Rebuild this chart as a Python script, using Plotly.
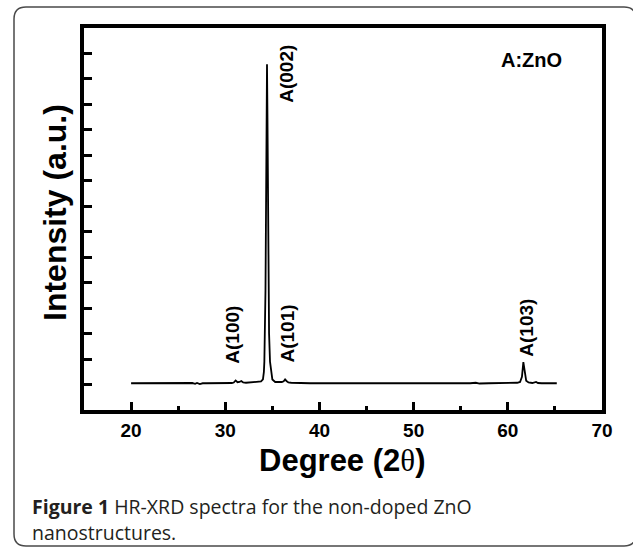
import plotly.graph_objects as go

# XRD scan of non-doped ZnO: 2-theta (deg) and intensity (a.u., one tick = 1 unit)
two_theta = [
    20.0, 21.0, 22.0, 23.0, 24.0, 25.0, 26.0, 26.5, 26.8, 27.0, 27.3, 27.6,
    28.0, 28.5, 29.0, 29.5, 29.8, 30.0, 30.4, 30.7, 30.9, 31.1, 31.3, 31.5,
    31.7, 31.9, 32.2, 32.6, 33.0, 33.4, 33.8, 34.0, 34.1, 34.15, 34.22, 34.27,
    34.33, 34.38, 34.43, 34.48, 34.53, 34.59, 34.65, 34.75, 34.85, 35.0, 35.3,
    35.6, 36.0, 36.2, 36.35, 36.5, 36.7,
    37.0, 37.5, 38.0, 39.0, 40.0, 40.5, 41.0, 42.0, 43.0, 44.0, 45.0, 46.0,
    47.0, 47.5, 48.0, 49.0, 50.0, 51.0, 52.0, 53.0, 54.0, 54.5, 55.0, 56.0,
    56.6, 57.0, 58.0, 59.0, 60.0, 60.5, 61.0, 61.3, 61.5, 61.65, 61.8, 61.95,
    62.2, 62.6, 63.0, 63.2, 63.6, 64.0, 64.5, 65.2,
]
intensity = [
    1.05, 1.05, 1.05, 1.05, 1.05, 1.05, 1.05, 1.06, 1.03, 1.06, 1.02, 1.05,
    1.05, 1.05, 1.05, 1.05, 1.06, 1.05, 1.07, 1.06, 1.08, 1.16, 1.09, 1.10,
    1.14, 1.08, 1.07, 1.08, 1.08, 1.10, 1.12, 1.20, 1.50, 1.90, 3.00, 4.70,
    8.00, 11.50, 13.58, 11.50, 8.00, 4.70, 3.00, 1.90, 1.50, 1.20, 1.10,
    1.09, 1.10, 1.13, 1.20, 1.14, 1.08,
    1.07, 1.06, 1.05, 1.05, 1.05, 1.06, 1.05, 1.05, 1.05, 1.05, 1.04, 1.05,
    1.05, 1.06, 1.05, 1.05, 1.05, 1.05, 1.05, 1.05, 1.06, 1.04, 1.05, 1.05,
    1.07, 1.04, 1.05, 1.06, 1.05, 1.06, 1.07, 1.10, 1.30, 1.88, 1.50, 1.15,
    1.08, 1.06, 1.10, 1.06, 1.05, 1.05, 1.04, 1.05,
]

# Reflection labels (text, x position in deg, y position in a.u.)
peak_labels = ["A(002)", "A(100)", "A(101)", "A(103)"]
peak_label_x = [36.55, 30.75, 36.65, 61.9]
peak_label_y = [13.2, 2.97, 3.0, 3.22]

x_range = [15, 70]
y_range = [0, 15]

W_FIG, H_FIG = 633, 549
L, R, T, B = 84, 602, 28, 410  # plot frame in pixels


def paper_x(px):
    return (px - L) / (R - L)


def paper_y(py):
    return (B - py) / (B - T)


fig = go.Figure()
fig.add_trace(go.Scatter(
    x=two_theta, y=intensity, mode="lines",
    line=dict(color="black", width=1.8), showlegend=False, hoverinfo="skip",
))

axis_font = dict(family="Liberation Sans, Arial", size=19, color="black")

fig.update_xaxes(
    range=x_range, dtick=10, tick0=0,
    showline=True, linecolor="black", linewidth=4, mirror=True,
    ticks="inside", ticklen=8, tickwidth=3, tickcolor="black",
    minor=dict(dtick=5, ticks="inside", ticklen=4, tickwidth=3, tickcolor="black", showgrid=False),
    showgrid=False, zeroline=False,
    tickfont=dict(axis_font, weight="bold"),
)
fig.update_yaxes(
    range=y_range, dtick=1, tick0=0,
    showline=True, linecolor="black", linewidth=4, mirror=True,
    ticks="inside", ticklen=8, tickwidth=3, tickcolor="black",
    showticklabels=False, showgrid=False, zeroline=False,
)

annotations = []
for txt, xv, yv in zip(peak_labels, peak_label_x, peak_label_y):
    annotations.append(dict(
        x=xv, y=yv, xref="x", yref="y", text=txt, showarrow=False, textangle=-90,
        font=dict(family="Liberation Sans, Arial", size=19, color="black", weight="bold"),
        xanchor="center", yanchor="middle",
    ))

annotations += [
    dict(x=paper_x(531), y=paper_y(60), xref="paper", yref="paper", text="A:ZnO",
         xanchor="center", yanchor="middle", showarrow=False,
         font=dict(family="Liberation Sans, Arial", size=20, color="black", weight="bold")),
    dict(x=paper_x(55), y=paper_y(213), xref="paper", yref="paper", text="Intensity (a.u.)",
         xanchor="center", yanchor="middle", showarrow=False, textangle=-90,
         font=dict(family="Liberation Sans, Arial", size=32, color="black", weight="bold")),
    dict(x=paper_x(342), y=paper_y(460), xref="paper", yref="paper",
         text="Degree (2<span style='font-family:Liberation Serif;font-weight:normal'>θ</span>)",
         xanchor="center", yanchor="middle", showarrow=False,
         font=dict(family="Liberation Sans, Arial", size=31, color="black", weight="bold")),
    dict(x=paper_x(30), y=paper_y(507), xref="paper", yref="paper", xanchor="left", yanchor="middle",
         text="<b>Figure 1</b> HR-XRD spectra for the non-doped ZnO",
         showarrow=False, font=dict(family="Open Sans", size=19.5, color="#231f20")),
    dict(x=paper_x(30), y=paper_y(532), xref="paper", yref="paper", xanchor="left", yanchor="middle",
         text="nanostructures.",
         showarrow=False, font=dict(family="Open Sans", size=19.5, color="#231f20")),
]

# Rounded outer frame around figure and caption
bl, bt, br, bb, rad = 14, 7, 636, 546, 12
path = (
    f"M {paper_x(bl)},{paper_y(bt + rad)} "
    f"Q {paper_x(bl)},{paper_y(bt)} {paper_x(bl + rad)},{paper_y(bt)} "
    f"L {paper_x(br - rad)},{paper_y(bt)} "
    f"Q {paper_x(br)},{paper_y(bt)} {paper_x(br)},{paper_y(bt + rad)} "
    f"L {paper_x(br)},{paper_y(bb - rad)} "
    f"Q {paper_x(br)},{paper_y(bb)} {paper_x(br - rad)},{paper_y(bb)} "
    f"L {paper_x(bl + rad)},{paper_y(bb)} "
    f"Q {paper_x(bl)},{paper_y(bb)} {paper_x(bl)},{paper_y(bb - rad)} Z"
)

fig.update_layout(
    width=W_FIG, height=H_FIG,
    margin=dict(l=L, r=W_FIG - R, t=T, b=H_FIG - B, pad=0),
    paper_bgcolor="white", plot_bgcolor="white",
    annotations=annotations,
    shapes=[dict(type="path", path=path, xref="paper", yref="paper",
                 line=dict(color="#4a4a4a", width=1.5), layer="below")],
)

fig.write_html("out.html")
